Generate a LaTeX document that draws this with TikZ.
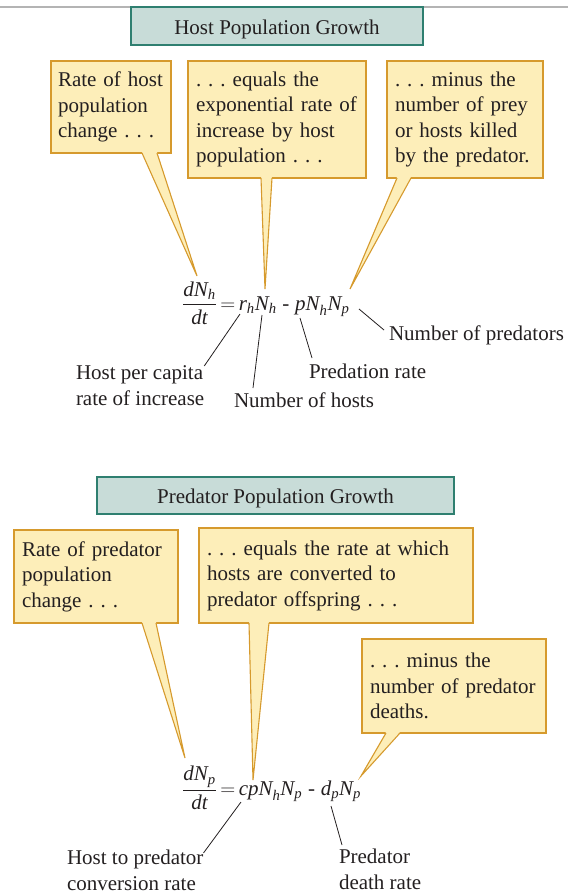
\documentclass[tikz,border=0pt]{standalone}
\usepackage{amsmath}
\usepackage{fontspec}
\setmainfont{Liberation Serif}
\frenchspacing

\definecolor{ink}{HTML}{231F20}
\definecolor{notefill}{HTML}{FDEEB9}
\definecolor{noteline}{HTML}{D69A2D}
\definecolor{titlefill}{HTML}{C8DCD8}
\definecolor{titleline}{HTML}{2F7F70}
\definecolor{rulegray}{HTML}{B4B4B4}

% italic variable in the equations
\newcommand{\mi}[1]{\textit{#1}}

\tikzset{
  txt/.style={font=\fontsize{21}{25.5}\selectfont, text=ink},
  titlebox/.style={txt, draw=titleline, fill=titlefill, line width=1.2pt,
    inner sep=0pt, outer sep=0pt, text height=16pt, text depth=0pt},
  notebox/.style={txt, draw=noteline, fill=notefill, line width=1.1pt,
    anchor=north west, inner xsep=8pt, inner ysep=0pt, outer sep=0pt,
    align=left, text width=#1},
  tail/.style={draw=noteline, line width=1.1pt},
  lbl/.style={txt, inner sep=0pt, outer sep=0pt, align=left},
  pointer/.style={draw=ink, line width=0.8pt},
}

\begin{document}
\begin{tikzpicture}[x=1pt,y=-1pt]
\useasboundingbox (0,0) rectangle (568,894);

% rule along the top
\draw [rulegray, line width=2pt] (0,7) -- (568,7);

%%% host population growth
\node [titlebox, minimum width=292pt, minimum height=38pt] (hosttitle) at (277,26) {Host Population Growth};

\node [notebox=112pt, inner xsep=4pt, minimum height=92pt] (hostchange) at (51,61) {\hspace*{3pt}Rate of host\\\hspace*{3pt}population\\\hspace*{3pt}change .~.~.};
\node [notebox=162pt, minimum height=117pt] (hostgrow) at (188,61) {.~.~.~equals the\\exponential rate of\\increase by host\\population .~.~.};
\node [notebox=140pt, minimum height=117pt] (hostkill) at (387,61) {.~.~.~minus the\\number of prey\\or hosts killed\\by the predator.};

\node [txt, inner sep=0pt, anchor=west] (hosteq) at (182,303)
  {$\dfrac{\mi{dN}_{\mi{h}}}{\mi{dt}}\,{=}\,\mi{r}_{\mi{h}}\mi{N}_{\mi{h}}\;\text{-}\;\mi{pN}_{\mi{h}}\mi{N}_{\mi{p}}$};

\coordinate (hostchange-tip) at (197,276);
\coordinate (hostgrow-tip) at (265,289);
\coordinate (hostkill-tip) at (350,289);

\fill [notefill] ([xshift=91pt,yshift=1pt]hostchange.south west) -- (hostchange-tip) -- ([xshift=106pt,yshift=1pt]hostchange.south west) -- cycle;
\draw [tail] ([xshift=91pt]hostchange.south west) -- (hostchange-tip) -- ([xshift=106pt]hostchange.south west);
\fill [notefill] ([xshift=73pt,yshift=1pt]hostgrow.south west) -- (hostgrow-tip) -- ([xshift=84pt,yshift=1pt]hostgrow.south west) -- cycle;
\draw [tail] ([xshift=73pt]hostgrow.south west) -- (hostgrow-tip) -- ([xshift=84pt]hostgrow.south west);
\fill [notefill] ([xshift=10pt,yshift=1pt]hostkill.south west) -- (hostkill-tip) -- ([xshift=24pt,yshift=1pt]hostkill.south west) -- cycle;
\draw [tail] ([xshift=10pt]hostkill.south west) -- (hostkill-tip) -- ([xshift=24pt]hostkill.south west);

% labels under the host equation
\coordinate (eq-rh) at (240,314);
\coordinate (eq-Nh) at (262,315);
\coordinate (eq-p) at (300,318);
\coordinate (eq-Np) at (359,309);

\node [lbl, anchor=north west] (hostrate) at (76,366) {Host per capita\\rate of increase};
\node [lbl, anchor=base west] (hostnum) at (234,407) {Number of hosts};
\node [lbl, anchor=base west] (predation) at (309,378) {Predation rate};
\node [lbl, anchor=base west] (prednum) at (389,340) {Number of predators};

\draw [pointer] (eq-rh) -- (hostrate.north east);
\draw [pointer] (eq-Nh) -- ([xshift=19pt,yshift=19pt]hostnum.base west);
\draw [pointer] (eq-p) -- ([xshift=3pt,yshift=20pt]predation.base west);
\draw [pointer] (eq-Np) -- ([xshift=-5pt,yshift=10pt]prednum.base west);

%%% predator population growth
\node [titlebox, minimum width=357pt, minimum height=37pt] (predtitle) at (275.5,495.5) {Predator Population Growth};

\node [notebox=148pt, minimum height=93pt] (predchange) at (14,530) {Rate of predator\\population\\change .~.~.};
\node [notebox=258pt, minimum height=95pt] (predgrow) at (199,528) {.~.~.~equals the rate at which\\hosts are converted to\\predator offspring .~.~.};
\node [notebox=168pt, minimum height=94pt] (preddeath) at (362,639) {.~.~.~minus the\\number of predator\\deaths.};

\node [txt, inner sep=0pt, anchor=west] (predeq) at (182,788)
  {$\dfrac{\mi{dN}_{\mi{p}}}{\mi{dt}}\,{=}\,\mi{cpN}_{\mi{h}}\mi{N}_{\mi{p}}\;\text{-}\;\mi{d}_{\mi{p}}\mi{N}_{\mi{p}}$};

\coordinate (predchange-tip) at (185,758);
\coordinate (predgrow-tip) at (253,780);
\coordinate (preddeath-tip) at (361,776);

\fill [notefill] ([xshift=128pt,yshift=1pt]predchange.south west) -- (predchange-tip) -- ([xshift=142pt,yshift=1pt]predchange.south west) -- cycle;
\draw [tail] ([xshift=128pt]predchange.south west) -- (predchange-tip) -- ([xshift=142pt]predchange.south west);
\fill [notefill] ([xshift=50pt,yshift=1pt]predgrow.south west) -- (predgrow-tip) -- ([xshift=70pt,yshift=1pt]predgrow.south west) -- cycle;
\draw [tail] ([xshift=50pt]predgrow.south west) -- (predgrow-tip) -- ([xshift=70pt]predgrow.south west);
\fill [notefill] ([xshift=24pt,yshift=1pt]preddeath.south west) -- (preddeath-tip) -- ([xshift=38pt,yshift=1pt]preddeath.south west) -- cycle;
\draw [tail] ([xshift=24pt]preddeath.south west) -- (preddeath-tip) -- ([xshift=38pt]preddeath.south west);

% labels under the predator equation
\coordinate (eq-cp) at (241,802);
\coordinate (eq-dp) at (331,806);

\node [lbl, anchor=north west] (convrate) at (67,850) {Host to predator\\conversion rate};
\node [lbl, anchor=north west] (deathrate) at (339,849) {Predator\\death rate};

\draw [pointer] (eq-cp) -- ([yshift=-3pt]convrate.north east);
\draw [pointer] (eq-dp) -- ([xshift=3pt,yshift=4pt]deathrate.north west);
\end{tikzpicture}
\end{document}
